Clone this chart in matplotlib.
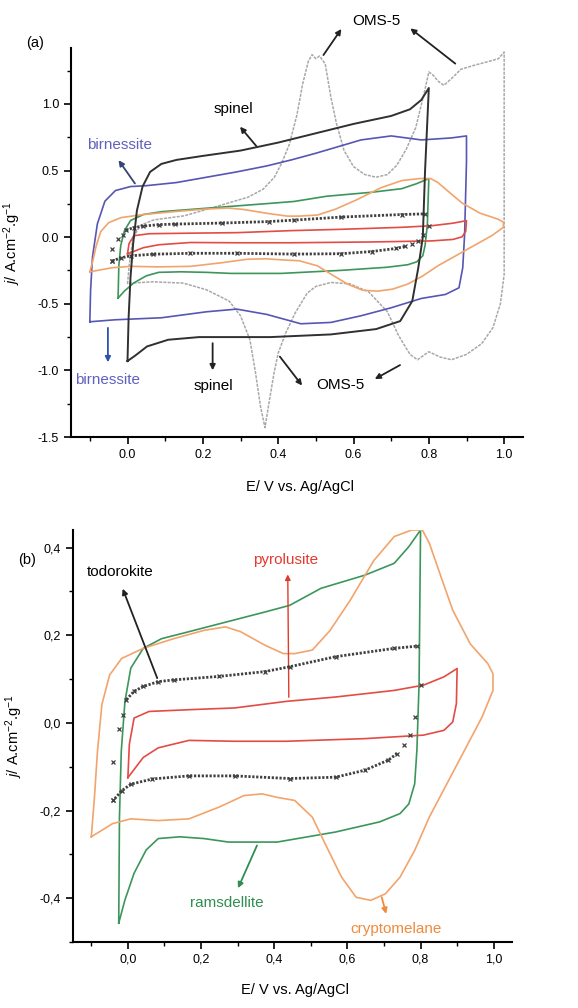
import matplotlib
matplotlib.use("Agg")
import matplotlib.pyplot as plt
from matplotlib.ticker import MultipleLocator

plt.rcParams['font.family'] = ['Liberation Sans', 'DejaVu Sans']
plt.rcParams['mathtext.fontset'] = 'custom'
plt.rcParams['mathtext.rm'] = 'Liberation Sans'
plt.rcParams['mathtext.it'] = 'Liberation Sans:italic'

# ---------------- data (E in V, j in A cm^-2 g^-1), closed CV loops ----------------
spinel_E = [0.0, 0.003, 0.008, 0.015, 0.025, 0.04, 0.06, 0.09, 0.13, 0.2, 0.3, 0.4, 0.5, 0.6, 0.7, 0.75, 0.78, 0.8,
            0.79, 0.784, 0.772, 0.756, 0.724, 0.66, 0.54, 0.38, 0.19, 0.108, 0.052, 0.02, 0.0]
spinel_j = [-0.93, -0.6, -0.3, -0.05, 0.2, 0.38, 0.49, 0.55, 0.58, 0.61, 0.65, 0.71, 0.78, 0.85, 0.91, 0.96, 1.03, 1.12,
            0.5, 0.0, -0.23, -0.48, -0.63, -0.69, -0.73, -0.75, -0.75, -0.77, -0.82, -0.89, -0.93]

birnessite_E = [-0.10, -0.098, -0.093, -0.08, -0.06, -0.032, 0.008, 0.048, 0.13, 0.21, 0.29, 0.37, 0.435, 0.5, 0.62,
                0.70, 0.78, 0.86, 0.9, 0.9, 0.895, 0.89, 0.88, 0.844, 0.78, 0.70, 0.62, 0.54, 0.46, 0.37, 0.29,
                0.21, 0.09, -0.032, -0.10]
birnessite_j = [-0.635, -0.4, -0.15, 0.1, 0.27, 0.35, 0.38, 0.386, 0.41, 0.45, 0.49, 0.535, 0.58, 0.63, 0.73,
                0.76, 0.73, 0.745, 0.76, 0.57, 0.02, -0.23, -0.38, -0.43, -0.46, -0.53, -0.59, -0.64, -0.65, -0.58, -0.54,
                -0.56, -0.605, -0.62, -0.635]

oms5_E = [0.0, 0.005, 0.015, 0.035, 0.07, 0.15, 0.2, 0.26, 0.32, 0.36, 0.39, 0.41, 0.43, 0.45, 0.465, 0.48, 0.49,
          0.50, 0.51, 0.525, 0.54, 0.555, 0.575, 0.6, 0.63, 0.66, 0.69, 0.715, 0.74, 0.765, 0.785, 0.8, 0.81, 0.825,
          0.84, 0.86, 0.885, 0.92, 0.96, 0.985, 1.0, 1.0, 1.0, 1.0, 0.99, 0.97, 0.94, 0.9, 0.86, 0.83, 0.80, 0.77,
          0.75, 0.72, 0.69, 0.64, 0.59, 0.54, 0.5, 0.477, 0.445, 0.42, 0.40, 0.389, 0.377, 0.365, 0.353, 0.34, 0.325,
          0.30, 0.27, 0.21, 0.148, 0.068, 0.008, 0.0]
oms5_j = [-0.35, -0.2, 0.0, 0.09, 0.13, 0.16, 0.2, 0.25, 0.3, 0.36, 0.45, 0.56, 0.7, 0.92, 1.15, 1.32, 1.37,
          1.34, 1.36, 1.3, 1.05, 0.85, 0.65, 0.53, 0.47, 0.45, 0.47, 0.54, 0.66, 0.82, 1.05, 1.24, 1.22, 1.17,
          1.14, 1.19, 1.26, 1.29, 1.32, 1.34, 1.39, 0.8, 0.2, -0.28, -0.5, -0.68, -0.8, -0.88, -0.92, -0.9, -0.86, -0.92,
          -0.88, -0.74, -0.56, -0.41, -0.35, -0.34, -0.37, -0.42, -0.57, -0.72, -0.87, -1.02, -1.22, -1.43, -1.27, -1.02, -0.77,
          -0.59, -0.48, -0.395, -0.345, -0.335, -0.345, -0.35]

ramsdellite_E = [-0.025, -0.023, -0.018, -0.008, 0.008, 0.042, 0.092, 0.167, 0.25, 0.375, 0.442, 0.528, 0.648, 0.728,
                 0.768, 0.8, 0.796, 0.79, 0.784, 0.768, 0.744, 0.688, 0.568, 0.408, 0.275, 0.208, 0.142, 0.083, 0.05,
                 0.017, -0.008, -0.025]
ramsdellite_j = [-0.457, -0.215, -0.064, 0.049, 0.125, 0.17, 0.192, 0.208, 0.226, 0.253, 0.268, 0.307, 0.337, 0.364,
                 0.402, 0.44, 0.09, -0.063, -0.139, -0.185, -0.207, -0.226, -0.249, -0.272, -0.272, -0.264, -0.26, -0.264,
                 -0.29, -0.343, -0.404, -0.457]

cryptomelane_E = [-0.1, -0.092, -0.083, -0.071, -0.05, -0.017, 0.042, 0.125, 0.208, 0.267, 0.308, 0.375, 0.425, 0.456,
                  0.504, 0.552, 0.608, 0.672, 0.728, 0.776, 0.805, 0.824, 0.856, 0.888, 0.936, 0.984, 0.998, 0.998, 0.968,
                  0.92, 0.872, 0.824, 0.784, 0.744, 0.704, 0.664, 0.624, 0.584, 0.544, 0.504, 0.456, 0.408, 0.367,
                  0.317, 0.25, 0.167, 0.083, 0.008, -0.042, -0.1]
cryptomelane_j = [-0.26, -0.177, -0.064, 0.042, 0.109, 0.147, 0.17, 0.192, 0.211, 0.219, 0.208, 0.177, 0.158, 0.158,
                  0.166, 0.21, 0.28, 0.37, 0.425, 0.44, 0.44, 0.41, 0.333, 0.257, 0.18, 0.135, 0.112, 0.074, 0.013,
                  -0.063, -0.139, -0.215, -0.291, -0.352, -0.39, -0.405, -0.398, -0.352, -0.284, -0.215, -0.177, -0.170,
                  -0.162, -0.166, -0.192, -0.219, -0.223, -0.219, -0.23, -0.26]

pyrolusite_E = [0.0, 0.004, 0.017, 0.058, 0.167, 0.292, 0.433, 0.568, 0.728, 0.808, 0.864, 0.9, 0.898, 0.888, 0.864,
                0.808, 0.648, 0.433, 0.292, 0.167, 0.083, 0.042, 0.0]
pyrolusite_j = [-0.125, -0.049, 0.011, 0.026, 0.03, 0.034, 0.049, 0.059, 0.074, 0.086, 0.105, 0.124, 0.044, 0.002,
                -0.017, -0.028, -0.036, -0.042, -0.042, -0.04, -0.057, -0.079, -0.125]

todorokite_E = [-0.04, -0.04, -0.025, -0.012, -0.004, 0.017, 0.042, 0.083, 0.125, 0.25, 0.375, 0.442, 0.568, 0.728, 0.79,
                0.8, 0.784, 0.772, 0.756, 0.736, 0.712, 0.648, 0.568, 0.442, 0.292, 0.167, 0.067, 0.008, -0.017, -0.04]
todorokite_j = [-0.177, -0.09, -0.015, 0.019, 0.053, 0.072, 0.083, 0.094, 0.098, 0.106, 0.117, 0.128, 0.151, 0.17, 0.175,
                0.086, 0.013, -0.028, -0.051, -0.07, -0.085, -0.108, -0.124, -0.127, -0.121, -0.121, -0.128, -0.14, -0.155,
                -0.177]
# indices of the densely sampled (upper / lower) branches of todorokite
tod_upper = slice(4, 15)
tod_lower = slice(19, 30)

xticks = [0.0, 0.2, 0.4, 0.6, 0.8, 1.0]
xticklabels_a = ['0.0', '0.2', '0.4', '0.6', '0.8', '1.0']
xticklabels_b = ['0,0', '0,2', '0,4', '0,6', '0,8', '1,0']
yticks_a = [-1.5, -1.0, -0.5, 0.0, 0.5, 1.0]
yticklabels_a = ['-1.5', '-1.0', '-0.5', '0.0', '0.5', '1.0']
yticks_b = [-0.4, -0.2, 0.0, 0.2, 0.4]
yticklabels_b = ['-0,4', '-0,2', '0,0', '0,2', '0,4']

# ---------------- styles ----------------
C_SPINEL = '#303030'
C_BIRN = '#5656b4'
C_OMS = '#a8a8a8'
C_RAMS = '#3c965c'
C_CRYP = '#f2a46c'
C_PYRO = '#e24c44'
C_TOD = '#404040'

fig = plt.figure(figsize=(5.78, 10.08), dpi=100)
W, H = 578.0, 1008.0
ax_a = fig.add_axes([71 / W, 1 - 437 / H, (523 - 71) / W, (437 - 48) / H])
ax_b = fig.add_axes([73 / W, 1 - 942 / H, (512 - 73) / W, (942 - 530) / H])


def draw_small_four(ax):
    ax.plot(ramsdellite_E, ramsdellite_j, color=C_RAMS, lw=1.2, zorder=3)
    ax.plot(cryptomelane_E, cryptomelane_j, color=C_CRYP, lw=1.2, zorder=3)
    ax.plot(pyrolusite_E, pyrolusite_j, color=C_PYRO, lw=1.2, zorder=3)
    for sl in (tod_upper, tod_lower):
        ax.plot(todorokite_E[sl], todorokite_j[sl], color=C_TOD, lw=2.0,
                linestyle=(0, (0.8, 0.6)), zorder=4)
    ax.plot(todorokite_E, todorokite_j, linestyle='none', marker='x', ms=3.5, mew=0.9,
            color=C_TOD, zorder=4)


def style_axes(ax):
    for s in ('top', 'right'):
        ax.spines[s].set_visible(False)
    for s in ('left', 'bottom'):
        ax.spines[s].set_linewidth(1.5)
    ax.tick_params(which='major', direction='out', length=5, width=1.2, labelsize=9)
    ax.tick_params(which='minor', direction='out', length=3, width=1.0)
    ax.xaxis.set_minor_locator(MultipleLocator(0.1))


# ---------------- panel (a) ----------------
ax = ax_a
ax.plot(oms5_E, oms5_j, color=C_OMS, lw=1.1, linestyle=(0, (2.0, 0.8)), zorder=2)
ax.plot(birnessite_E, birnessite_j, color=C_BIRN, lw=1.2, zorder=3)
draw_small_four(ax)
ax.plot(spinel_E, spinel_j, color=C_SPINEL, lw=1.4, zorder=5)
ax.set_xlim(-0.15, 1.05)
ax.set_ylim(-1.5, 1.42)
style_axes(ax)
ax.set_xticks(xticks)
ax.set_xticklabels(xticklabels_a)
ax.set_yticks(yticks_a)
ax.set_yticklabels(yticklabels_a)
ax.yaxis.set_minor_locator(MultipleLocator(0.25))
ax.set_xlabel('E/ V vs. Ag/AgCl', fontsize=10.5)
ax.set_ylabel(r'$j$/ A.cm$^{-2}$.g$^{-1}$', fontsize=10.5)
ax.xaxis.set_label_coords(0.507, -0.11)
ax.yaxis.set_label_coords(-0.106, 0.5)

arw = dict(arrowstyle='-|>', lw=1.3, mutation_scale=8)
ax.text(0.66, 1.62, 'OMS-5', fontsize=11, ha='center', va='center', clip_on=False)
ax.annotate('', xy=(0.572, 1.58), xytext=(0.516, 1.35), arrowprops=dict(arw, color='#222222'),
            annotation_clip=False)
ax.annotate('', xy=(0.745, 1.58), xytext=(0.876, 1.29), arrowprops=dict(arw, color='#222222'),
            annotation_clip=False)
ax.text(0.28, 0.96, 'spinel', fontsize=11, ha='center', va='center')
ax.annotate('', xy=(0.294, 0.845), xytext=(0.347, 0.667), arrowprops=dict(arw, color='#222222'))
ax.text(-0.02, 0.69, 'birnessite', fontsize=11, ha='center', va='center', color='#6060c0')
ax.annotate('', xy=(-0.028, 0.595), xytext=(0.024, 0.386), arrowprops=dict(arw, color='#334477'))
ax.text(-0.052, -1.075, 'birnessite', fontsize=11, ha='center', va='center', color='#6060c0')
ax.annotate('', xy=(-0.052, -0.96), xytext=(-0.052, -0.66), arrowprops=dict(arw, color='#3050b0'))
ax.text(0.228, -1.12, 'spinel', fontsize=11, ha='center', va='center')
ax.annotate('', xy=(0.226, -1.02), xytext=(0.226, -0.775), arrowprops=dict(arw, color='#222222'))
ax.text(0.565, -1.11, 'OMS-5', fontsize=11, ha='center', va='center')
ax.annotate('', xy=(0.468, -1.13), xytext=(0.40, -0.88), arrowprops=dict(arw, color='#222222'))
ax.annotate('', xy=(0.65, -1.075), xytext=(0.73, -0.95), arrowprops=dict(arw, color='#222222'))
fig.text(35 / W, 1 - 43 / H, '(a)', fontsize=10.5, ha='center', va='center')

# ---------------- panel (b) ----------------
ax = ax_b
draw_small_four(ax)
ax.set_xlim(-0.15, 1.05)
ax.set_ylim(-0.5, 0.44)
style_axes(ax)
ax.set_xticks(xticks)
ax.set_xticklabels(xticklabels_b)
ax.set_yticks(yticks_b)
ax.set_yticklabels(yticklabels_b)
ax.yaxis.set_minor_locator(MultipleLocator(0.1))
ax.set_xlabel('E/ V vs. Ag/AgCl', fontsize=10.5)
ax.set_ylabel(r'$j$/ A.cm$^{-2}$.g$^{-1}$', fontsize=10.5)
ax.xaxis.set_label_coords(0.506, -0.1)
ax.yaxis.set_label_coords(-0.109, 0.5)

ax.text(-0.022, 0.345, 'todorokite', fontsize=11, ha='center', va='center')
ax.annotate('', xy=(-0.017, 0.312), xytext=(0.083, 0.096), arrowprops=dict(arw, color='#222222'))
ax.text(0.43, 0.372, 'pyrolusite', fontsize=11, ha='center', va='center', color='#e43a2e')
ax.annotate('', xy=(0.437, 0.345), xytext=(0.44, 0.052), arrowprops=dict(arw, color='#e03a2e', lw=1.0))
ax.text(0.27, -0.41, 'ramsdellite', fontsize=11, ha='center', va='center', color='#2f8f50')
ax.annotate('', xy=(0.298, -0.383), xytext=(0.356, -0.274), arrowprops=dict(arw, color='#2f8f50'))
ax.text(0.732, -0.47, 'cryptomelane', fontsize=11, ha='center', va='center', color='#f08a3c')
ax.annotate('', xy=(0.708, -0.442), xytext=(0.692, -0.392), arrowprops=dict(arw, color='#f08a3c'))
fig.text(27 / W, 1 - 560 / H, '(b)', fontsize=10.5, ha='center', va='center')

fig.savefig('out.png', dpi=100)
